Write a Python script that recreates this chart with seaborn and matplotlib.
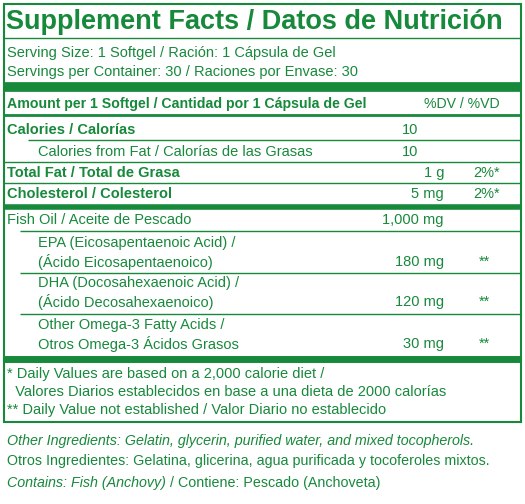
import matplotlib
matplotlib.use("Agg")
import matplotlib.pyplot as plt
import seaborn as sns

sns.set_theme(style="white")
plt.rcParams['font.family'] = ['Liberation Sans', 'DejaVu Sans']

G = "#17893b"
title = "Supplement Facts / Datos de Nutrición"
serving = ["Serving Size: 1 Softgel / Ración: 1 Cápsula de Gel",
           "Servings per Container: 30 / Raciones por Envase: 30"]
header = "Amount per 1 Softgel / Cantidad por 1 Cápsula de Gel"
dv_header = "%DV / %VD"
rows_labels = [["Calories / Calorías"], ["Calories from Fat / Calorías de las Grasas"],
               ["Total Fat / Total de Grasa"], ["Cholesterol / Colesterol"],
               ["Fish Oil / Aceite de Pescado"],
               ["EPA (Eicosapentaenoic Acid) /", "(Ácido Eicosapentaenoico)"],
               ["DHA (Docosahexaenoic Acid) /", "(Ácido Decosahexaenoico)"],
               ["Other Omega-3 Fatty Acids /", "Otros Omega-3 Ácidos Grasos"]]
rows_amount = ["10", "10", "1 g", "5 mg", "1,000 mg", "180 mg", "120 mg", "30 mg"]
rows_dv = ["", "", "2%*", "2%*", "", "**", "**", "**"]
rows_bold = [True, False, True, True, False, False, False, False]
rows_indent = [0, 1, 0, 0, 0, 1, 1, 1]
footnotes = ["* Daily Values are based on a 2,000 calorie diet /",
             "  Valores Diarios establecidos en base a una dieta de 2000 calorías",
             "** Daily Value not established / Valor Diario no establecido"]

fig = plt.figure(figsize=(5.25, 5.04), dpi=100)
ax = fig.add_axes([0, 0, 1, 1])
ax.set_xlim(0, 525); ax.set_ylim(504, 0); ax.axis("off")

def T(x, y, s, **kw):
    kw.setdefault("fontsize", 10.5)
    ax.text(x, y, s, color=G, va="center", **kw)

def L(y, lw=1.0, x0=4, x1=521):
    ax.plot([x0, x1], [y, y], color=G, lw=lw, solid_capstyle="butt")

ax.add_patch(plt.Rectangle((4, 4), 517, 418, fill=False, ec=G, lw=1.5))
T(6, 22, title, fontsize=19.5, fontweight="bold")
L(38, 1.0)
T(7, 53, serving[0]); T(7, 72, serving[1])
L(87, 7)
T(7, 104, header, fontweight="bold", fontsize=10.2)
T(500, 104, dv_header, ha="right", fontsize=10.2)
L(115, 2)

row_y = [130, 152, 173, 194, 220, 262, 302, 344]
line_after = [(140, 1, 28), (162, 1, 4), (183, 1, 4), (207, 4, 4), (231, 1, 20),
              (273, 1, 20), (314, 1, 20), (359, 5, 4)]
for i, lab in enumerate(rows_labels):
    y = row_y[i]
    x = 38 if rows_indent[i] else 7
    fw = "bold" if rows_bold[i] else "normal"
    for j, s in enumerate(lab):
        T(x, y - (len(lab) - 1 - j) * 19, s, fontweight=fw)
    if i < 2:
        T(410, y, rows_amount[i], ha="center")
    else:
        T(444, y, rows_amount[i], ha="right")
    if rows_dv[i]:
        if rows_dv[i] == "**":
            T(484, y, rows_dv[i], ha="center")
        else:
            T(500, y, rows_dv[i], ha="right")
    ly, lw, x0 = line_after[i]
    L(ly, lw, x0)

for k, s in enumerate(footnotes):
    T(7, 374 + 18 * k, s)

T(7, 441, "Other Ingredients: Gelatin, glycerin, purified water, and mixed tocopherols.", fontstyle="italic", fontsize=10.3)
T(7, 461, "Otros Ingredientes: Gelatina, glicerina, agua purificada y tocoferoles mixtos.", fontsize=10.3)
t = ax.text(7, 483, "Contains: Fish (Anchovy)", color=G, va="center", fontstyle="italic", fontsize=10.3)
fig.canvas.draw()
bb = t.get_window_extent().transformed(ax.transData.inverted())
T(bb.x1, 483, " / Contiene: Pescado (Anchoveta)", fontsize=10.3)

fig.savefig("out.png", dpi=100, facecolor="white")
